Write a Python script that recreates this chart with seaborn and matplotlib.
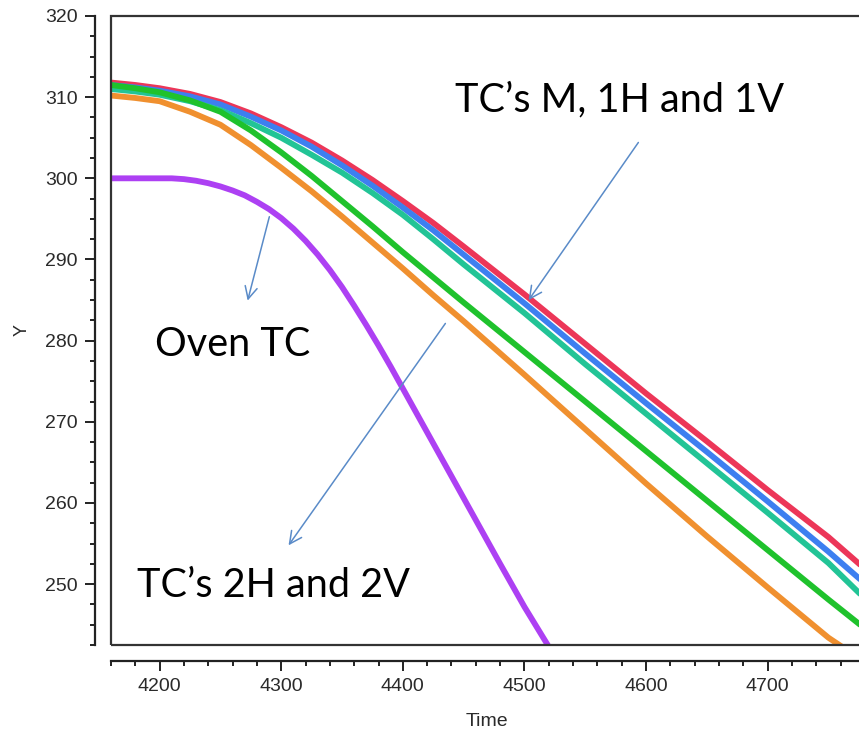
import numpy as np
import pandas as pd
import matplotlib
matplotlib.use("Agg")
import matplotlib.pyplot as plt
from matplotlib.ticker import MultipleLocator
import seaborn as sns

# values
time = [4160, 4180, 4200, 4225, 4250, 4275, 4300, 4325, 4350, 4375, 4400, 4425, 4450,
        4500, 4550, 4600, 4650, 4700, 4750, 4776]
tc_red = [311.8, 311.5, 311.1, 310.4, 309.4, 308.0, 306.3, 304.4, 302.2, 299.8, 297.2, 294.5, 291.6,
          285.7, 279.6, 273.5, 267.6, 261.6, 255.8, 252.4]
tc_blue = [311.5, 311.2, 310.8, 310.1, 309.1, 307.6, 305.9, 303.9, 301.6, 299.1, 296.4, 293.6, 290.6,
           284.6, 278.4, 272.3, 266.3, 260.2, 254.0, 250.6]
tc_teal = [311.0, 310.7, 310.3, 309.5, 308.4, 306.8, 305.0, 302.9, 300.7, 298.2, 295.5, 292.5, 289.4,
           283.4, 277.1, 271.0, 264.9, 258.8, 252.6, 248.8]
tc_green = [311.5, 311.1, 310.6, 309.6, 308.2, 305.9, 303.2, 300.3, 297.2, 294.1, 290.9, 287.8, 284.7,
            278.6, 272.5, 266.4, 260.3, 254.2, 248.1, 245.0]

time_orange = [4160, 4180, 4200, 4225, 4250, 4275, 4300, 4325, 4350, 4375, 4400, 4425, 4450,
               4500, 4550, 4600, 4650, 4700, 4750, 4761]
tc_orange = [310.2, 309.9, 309.5, 308.2, 306.6, 304.1, 301.3, 298.4, 295.3, 292.1, 288.9, 285.6, 282.4,
             275.8, 269.1, 262.4, 255.9, 249.6, 243.4, 242.3]

time_oven = [4160, 4200, 4210, 4220, 4230, 4240, 4250, 4260, 4270, 4280, 4290, 4300, 4310, 4320,
             4330, 4340, 4350, 4360, 4370, 4380, 4390, 4400, 4420, 4440, 4460, 4480, 4500, 4522]
oven = [300.0, 300.0, 300.0, 299.9, 299.7, 299.4, 299.0, 298.5, 297.9, 297.1, 296.2, 295.1, 293.8, 292.3,
        290.6, 288.7, 286.6, 284.3, 281.9, 279.4, 276.8, 274.1, 268.7, 263.3, 257.9, 252.5, 247.2, 241.8]

frames = []
for name, t, v in [("red", time, tc_red), ("blue", time, tc_blue), ("teal", time, tc_teal),
                   ("green", time, tc_green), ("orange", time_orange, tc_orange),
                   ("oven", time_oven, oven)]:
    frames.append(pd.DataFrame({"Time": t, "Y": v, "tc": name}))
df = pd.concat(frames, ignore_index=True)

palette = {"red": "#ec3658", "blue": "#3d7ff0", "teal": "#22c496",
           "green": "#1fc22c", "orange": "#f0902f", "oven": "#ad40f3"}

sns.set_style("ticks")
plt.rcParams["font.family"] = ["Liberation Sans", "DejaVu Sans"]

fig = plt.figure(figsize=(8.59, 7.31), dpi=100)
ax = fig.add_axes([111 / 859, 86 / 731, 751 / 859, 629 / 731])

sns.lineplot(data=df, x="Time", y="Y", hue="tc", palette=palette,
             hue_order=list(palette), linewidth=4.2, legend=False, sort=False, ax=ax)

ax.set_xlim(4160, 4777.6)
ax.set_ylim(242.5, 320)

# plot box + detached axes
ax.add_patch(plt.Rectangle((0, 0), 1, 1, transform=ax.transAxes, fill=False,
                           edgecolor="#333333", linewidth=1.6, clip_on=False, zorder=5))
for s in ["top", "right"]:
    ax.spines[s].set_visible(False)
for s in ["left", "bottom"]:
    ax.spines[s].set_position(("outward", 11.5))
    ax.spines[s].set_color("#222222")
    ax.spines[s].set_linewidth(1.6)

ax.xaxis.set_major_locator(MultipleLocator(100))
ax.xaxis.set_minor_locator(MultipleLocator(20))
ax.yaxis.set_major_locator(MultipleLocator(10))
ax.yaxis.set_minor_locator(MultipleLocator(2.5))
ax.tick_params(which="major", length=7, width=1.4, color="#222222",
               labelsize=14, labelcolor="#2a2a2a", pad=5.5)
ax.tick_params(which="minor", length=3.5, width=1.4, color="#222222")

ax.set_xlabel("Time", fontsize=14, color="#2a2a2a")
ax.set_ylabel("Y", fontsize=13, color="#2a2a2a")
ax.xaxis.set_label_coords(0.5007, -0.108)
ax.yaxis.set_label_coords(-0.107, 0.50)

arrow = dict(arrowstyle="->", color="#5a8bc8", lw=1.1, mutation_scale=22)
ax.annotate("", xy=(4502.1, 284.7), xytext=(4595.0, 304.7), arrowprops=arrow)
ax.annotate("", xy=(4271.8, 284.6), xytext=(4290.8, 295.6), arrowprops=arrow)
ax.annotate("", xy=(4304.7, 254.5), xytext=(4436.3, 282.4), arrowprops=arrow)

txt = dict(fontsize=28.5, family=["Lato", "DejaVu Sans"], color="black", va="center")
ax.text(4442.9, 309.6, "TC\u2019s M, 1H and 1V", ha="left", **txt)
ax.text(4260.3, 279.5, "Oven TC", ha="center", **txt)
ax.text(4181.4, 249.8, "TC\u2019s 2H and 2V", ha="left", **txt)

plt.savefig("out.png", dpi=100)
